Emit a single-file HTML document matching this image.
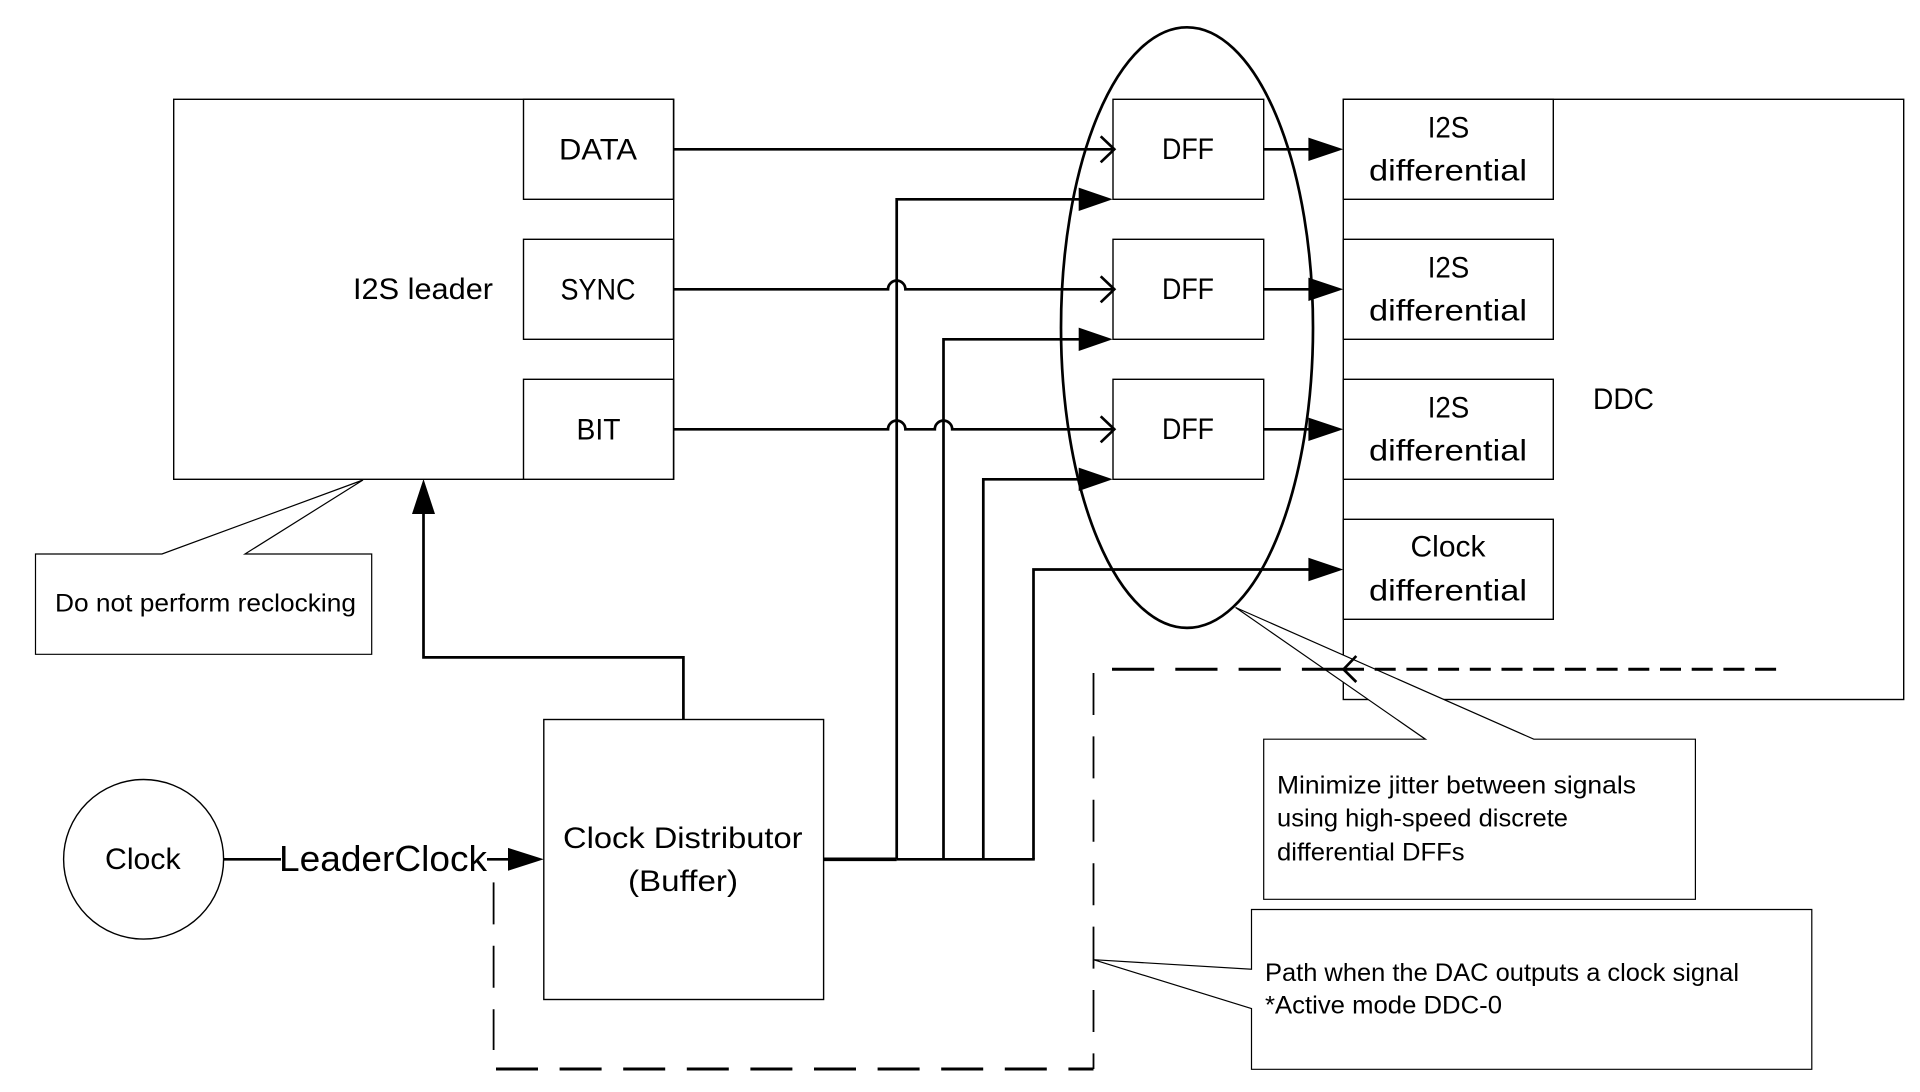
<!DOCTYPE html>
<html><head><meta charset="utf-8"><style>
html,body{margin:0;padding:0;background:#fff}
svg{display:block}
text{font-family:"Liberation Sans",sans-serif;fill:#000}
.b{fill:#fff;stroke:#000;stroke-width:1.4}
.w{fill:none;stroke:#000;stroke-width:2.7}
.h{fill:none;stroke:#000;stroke-width:3.6}
.c{fill:#fff;stroke:#000;stroke-width:1.2}
.a{fill:#000;stroke:none}
.t1{font-size:29.5px}
.t2{font-size:24.6px}
</style></head><body>
<svg width="1920" height="1092" viewBox="0 0 1920 1092" xmlns="http://www.w3.org/2000/svg">
<rect width="1920" height="1092" fill="#fff"/>
<rect class="b" x="173.7" y="99.3" width="500" height="380"/>
<rect class="b" x="523.5" y="99.3" width="150" height="100"/>
<rect class="b" x="523.5" y="239.3" width="150" height="100"/>
<rect class="b" x="523.5" y="379.3" width="150" height="100"/>
<rect class="b" x="1343.3" y="99.3" width="560.4" height="600.2"/>
<rect class="b" x="1343.3" y="99.3" width="210" height="100"/>
<rect class="b" x="1343.3" y="239.3" width="210" height="100"/>
<rect class="b" x="1343.3" y="379.3" width="210" height="100"/>
<rect class="b" x="1343.3" y="519.3" width="210" height="100"/>
<rect class="b" x="1113" y="99.3" width="150.7" height="100"/>
<rect class="b" x="1113" y="239.3" width="150.7" height="100"/>
<rect class="b" x="1113" y="379.3" width="150.7" height="100"/>
<rect class="b" x="543.8" y="719.5" width="279.8" height="280"/>
<ellipse class="b" cx="143.6" cy="859.3" rx="80" ry="79.8"/>
<polygon class="c" points="35.5,554 162,554 363,480 245,554 371.7,554 371.7,654.3 35.5,654.3"/>
<polygon class="c" points="1263.7,739.2 1425.4,739.2 1235.6,607.5 1533.8,739.2 1695.4,739.2 1695.4,899.3 1263.7,899.3"/>
<polygon class="c" points="1251.5,909.5 1811.8,909.5 1811.8,1069.3 1251.5,1069.3 1251.5,1008.6 1093.5,959.7 1251.5,969.2"/>
<ellipse class="w" cx="1187" cy="327.6" rx="126" ry="300.3"/>
<path class="w" d="M673 149.3H1113"/>
<path class="w" d="M673 289.3H888a8.7 8.7 0 0 1 17.4 0H1113"/>
<path class="w" d="M673 429.3H888a8.7 8.7 0 0 1 17.4 0H934.8a8.7 8.7 0 0 1 17.4 0H1113"/>
<path class="w" d="M1100.7 136.3L1114.3 149.3L1100.7 162.3M1100.7 276.3L1114.3 289.3L1100.7 302.3M1100.7 416.3L1114.3 429.3L1100.7 442.3"/>
<path class="w" d="M896.7 859.3V199.3H1080M943.5 859.3V339.3H1080M983.3 859.3V479.3H1080M1033.5 859.3V569.5H1310"/>
<path class="h" d="M823 859.3H896.7"/><path class="w" d="M896.7 859.3H1034.8"/>
<polygon class="a" points="1112.7,199.3 1078.7,187.6 1078.7,211"/>
<polygon class="a" points="1112.7,339.3 1078.7,327.6 1078.7,351"/>
<polygon class="a" points="1112.7,479.3 1078.7,467.6 1078.7,491"/>
<path class="w" d="M1263 149.3H1310M1263 289.3H1310M1263 429.3H1310"/>
<polygon class="a" points="1343.3,149.3 1308.4,137.6 1308.4,161"/>
<polygon class="a" points="1343.3,289.3 1308.4,277.6 1308.4,301"/>
<polygon class="a" points="1343.3,429.3 1308.4,417.6 1308.4,441"/>
<polygon class="a" points="1343.3,569.5 1308.4,557.8 1308.4,581.2"/>
<path class="w" d="M683.4 719.5V657.4H423.5V510"/>
<polygon class="a" points="423.5,479 412,514 435,514"/>
<path class="w" d="M223.5 859.3H281M487 859.3H510"/>
<polygon class="a" points="543.8,859.3 508,847.9 508,870.7"/>
<path class="w" stroke-dasharray="42 21.4" d="M493.6 882.4V1050" style="stroke-width:1.8"/>
<path class="w" stroke-dasharray="42 21.6" d="M496 1069H1093.5" style="stroke-width:3"/>
<path class="w" stroke-dasharray="42 21.4" d="M1093.5 673V1069" style="stroke-width:1.8"/>
<path class="w" stroke-dasharray="42.2 21.1" d="M1112 669.3H1343" style="stroke-width:3"/>
<path class="w" stroke-dasharray="21 10.7" d="M1343 669.3H1776.4" style="stroke-width:3"/>
<path class="w" d="M1356.3 656L1343.5 669.3L1356.3 682" style="stroke-width:2.7"/>
<text class="t1" x="353" y="299" textLength="140" lengthAdjust="spacingAndGlyphs">I2S leader</text>
<text class="t1" x="559" y="159.3" textLength="78" lengthAdjust="spacingAndGlyphs">DATA</text>
<text class="t1" x="560.5" y="299.3" textLength="75" lengthAdjust="spacingAndGlyphs">SYNC</text>
<text class="t1" x="576.5" y="439.3" textLength="44" lengthAdjust="spacingAndGlyphs">BIT</text>
<text class="t1" x="1162" y="159" textLength="52" lengthAdjust="spacingAndGlyphs">DFF</text>
<text class="t1" x="1162" y="299" textLength="52" lengthAdjust="spacingAndGlyphs">DFF</text>
<text class="t1" x="1162" y="439" textLength="52" lengthAdjust="spacingAndGlyphs">DFF</text>
<text class="t1" x="1427.7" y="137.5" textLength="41.6" lengthAdjust="spacingAndGlyphs">I2S</text>
<text class="t1" x="1369" y="180.4" textLength="158" lengthAdjust="spacingAndGlyphs">differential</text>
<text class="t1" x="1427.7" y="277.5" textLength="41.6" lengthAdjust="spacingAndGlyphs">I2S</text>
<text class="t1" x="1369" y="320.4" textLength="158" lengthAdjust="spacingAndGlyphs">differential</text>
<text class="t1" x="1427.7" y="417.5" textLength="41.6" lengthAdjust="spacingAndGlyphs">I2S</text>
<text class="t1" x="1369" y="460.4" textLength="158" lengthAdjust="spacingAndGlyphs">differential</text>
<text class="t1" x="1410.5" y="556.6" textLength="75" lengthAdjust="spacingAndGlyphs">Clock</text>
<text class="t1" x="1369" y="600.7" textLength="158" lengthAdjust="spacingAndGlyphs">differential</text>
<text class="t1" x="1593" y="409" textLength="61" lengthAdjust="spacingAndGlyphs">DDC</text>
<text class="t2" x="55" y="611.6" textLength="301" lengthAdjust="spacingAndGlyphs">Do not perform reclocking</text>
<text class="t1" x="105" y="868.8" textLength="75.6" lengthAdjust="spacingAndGlyphs">Clock</text>
<text style="font-size:36.5px" x="279" y="871" textLength="208" lengthAdjust="spacingAndGlyphs">LeaderClock</text>
<text class="t1" x="563" y="847.8" textLength="239.5" lengthAdjust="spacingAndGlyphs">Clock Distributor</text>
<text class="t1" x="628" y="890.8" textLength="110" lengthAdjust="spacingAndGlyphs">(Buffer)</text>
<text class="t2" x="1277" y="793.5" textLength="359" lengthAdjust="spacingAndGlyphs">Minimize jitter between signals</text>
<text class="t2" x="1277" y="826.7" textLength="291" lengthAdjust="spacingAndGlyphs">using high-speed discrete</text>
<text class="t2" x="1277" y="860.3" textLength="187.6" lengthAdjust="spacingAndGlyphs">differential DFFs</text>
<text class="t2" x="1265" y="980.8" textLength="474" lengthAdjust="spacingAndGlyphs">Path when the DAC outputs a clock signal</text>
<text class="t2" x="1265" y="1013.7" textLength="237" lengthAdjust="spacingAndGlyphs">*Active mode DDC-0</text>
</svg>
</body></html>
